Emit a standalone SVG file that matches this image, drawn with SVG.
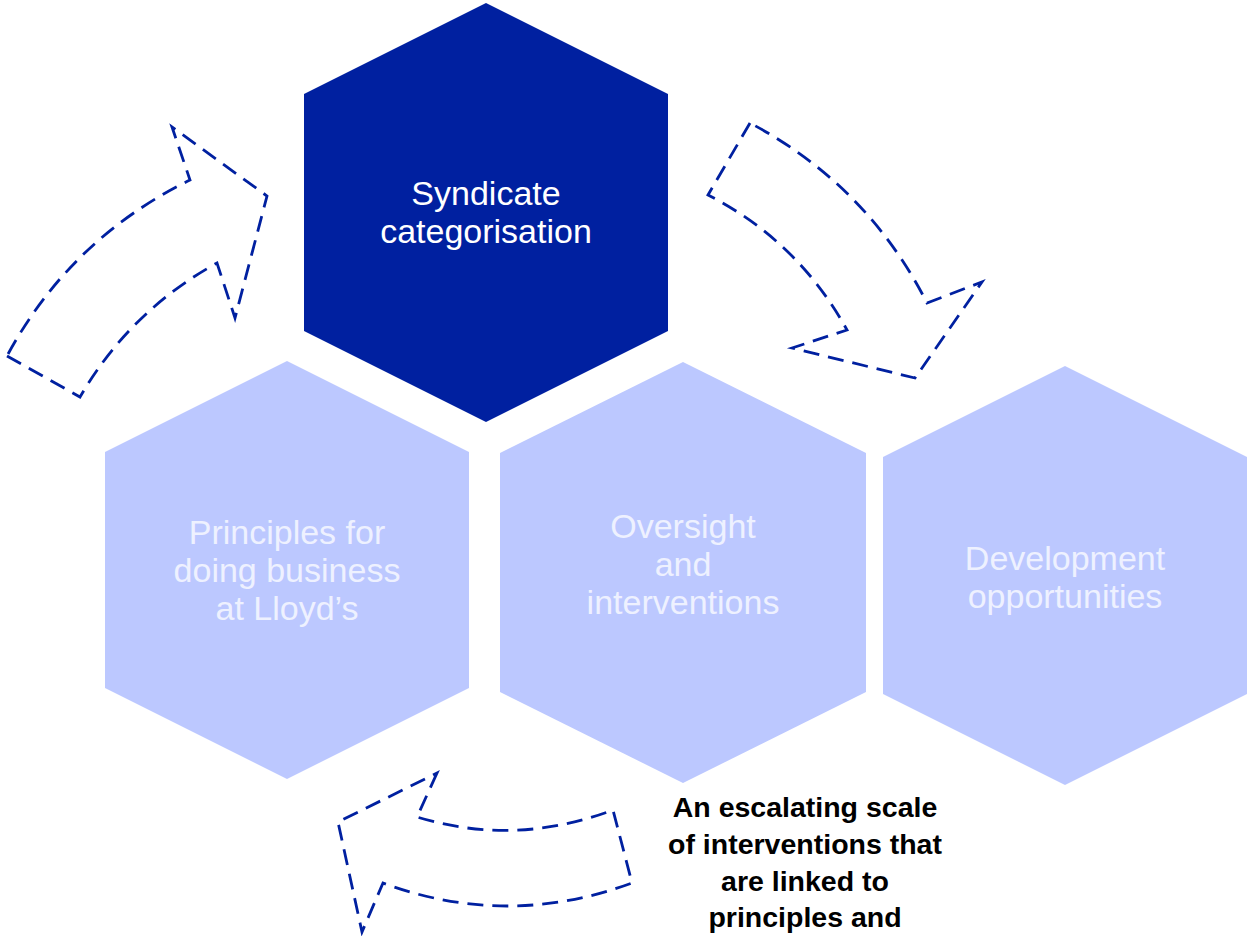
<svg xmlns="http://www.w3.org/2000/svg" width="1248" height="936" viewBox="0 0 1248 936">
  <style>
    .hex-dark { fill: #0020A0; }
    .hex-light { fill: #BCC8FF; }
    .lbl { font-family: "Liberation Sans", Arial, sans-serif; font-size: 34px; text-anchor: middle; }
    .lbl-dark { fill: #FFFFFF; }
    .lbl-light { fill: #EEF1FF; }
    .note { font-family: "Liberation Sans", Arial, sans-serif; font-size: 28.5px; font-weight: bold; text-anchor: middle; fill: #000000; }
    .flow { fill: none; stroke: #0020A0; stroke-width: 2.8; stroke-dasharray: 16 9; stroke-linejoin: miter; }
  </style>

  <rect width="1248" height="936" fill="#FFFFFF"/>

  <!-- Top: syndicate categorisation -->
  <g id="node-categorisation">
    <polygon class="hex-dark" points="486,3 668,94 668,331 486,422 304,331 304,94"/>
    <text class="lbl lbl-dark" x="486" y="205">Syndicate</text>
    <text class="lbl lbl-dark" x="486" y="243">categorisation</text>
  </g>

  <!-- Bottom row -->
  <g id="node-principles">
    <polygon class="hex-light" points="287,361 469,452 469,688 287,779 105,688 105,452"/>
    <text class="lbl lbl-light" x="287" y="544">Principles for</text>
    <text class="lbl lbl-light" x="287" y="582">doing business</text>
    <text class="lbl lbl-light" x="287" y="620">at Lloyd’s</text>
  </g>

  <g id="node-oversight">
    <polygon class="hex-light" points="683,362 866,453 866,692 683,783 500,692 500,453"/>
    <text class="lbl lbl-light" x="683" y="538">Oversight</text>
    <text class="lbl lbl-light" x="683" y="576">and</text>
    <text class="lbl lbl-light" x="683" y="614">interventions</text>
  </g>

  <g id="node-development">
    <polygon class="hex-light" points="1065,366 1247,457 1247,694 1065,785 883,694 883,457"/>
    <text class="lbl lbl-light" x="1065" y="570">Development</text>
    <text class="lbl lbl-light" x="1065" y="608">opportunities</text>
  </g>

  <!-- Dashed block arrows linking the stages -->
  <g id="connectors">
    <path id="arrow-to-categorisation" class="flow"
          d="M 7,356 L 80,397 Q 130,311 217,263 L 235,318 L 267,196 L 172,127 L 190,180 Q 70,239 7,356 Z"/>
    <path id="arrow-to-development" class="flow"
          d="M 750,123 L 708,195 Q 798,241 847,330 L 792,348 L 915,378 L 982,282 L 927,303 Q 867,185 750,123 Z"/>
    <path id="arrow-to-principles" class="flow"
          d="M 437,773 L 417,817 Q 515,847 613,810 L 632,883 Q 507,929 383,883 L 362,932 L 338,822 Z"/>
  </g>

  <!-- Caption -->
  <g id="caption">
    <text class="note" x="805" y="817">An escalating scale</text>
    <text class="note" x="805" y="854">of interventions that</text>
    <text class="note" x="805" y="891">are linked to</text>
    <text class="note" x="805" y="927">principles and</text>
  </g>
</svg>
